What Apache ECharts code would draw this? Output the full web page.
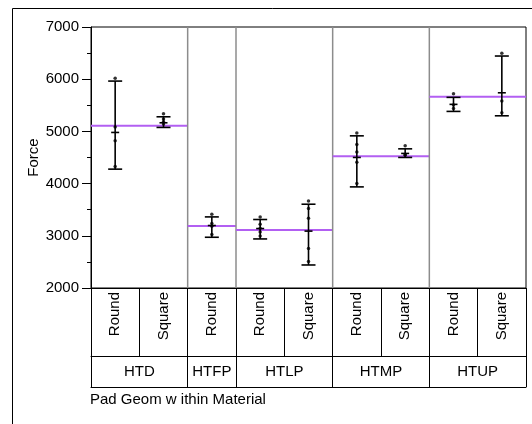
<!DOCTYPE html>
<html>
<head>
<meta charset="utf-8">
<script src="https://cdn.jsdelivr.net/npm/echarts@6/dist/echarts.min.js"></script>
<style>
html, body { margin: 0; padding: 0; background: #fff; }
#chart { width: 532px; height: 424px; }
</style>
</head>
<body>
<div id="chart"></div>
<script>
// 数据
var subLabels = ['Round', 'Square', 'Round', 'Round', 'Square', 'Round', 'Square', 'Round', 'Square'];
var groups = ['HTD', 'HTFP', 'HTLP', 'HTMP', 'HTUP'];
var groupSizes = [2, 1, 2, 2, 2];
var groupMeans = [5107, 3190, 3112, 4526, 5663];

var cellLow = [4277, 5076, 2972, 2940, 2441, 3937, 4501, 5383, 5299];
var cellHigh = [5964, 5280, 3362, 3312, 3605, 4915, 4666, 5652, 6444];
var cellMean = [4980, 5165, 3197, 3139, 3090, 4501, 4578, 5518, 5740];
var cellPoints = [
    [6016, 5082, 4819, 4328],
    [5337, 5236, 5184, 5140],
    [3414, 3235, 3183, 3024],
    [3362, 3222, 3145, 3074, 2997],
    [3669, 3523, 3337, 2756, 2506],
    [4967, 4750, 4603, 4411, 4002],
    [4724, 4559, 4545],
    [5721, 5504, 5441],
    [6496, 5581, 5357]
];

var font = 'Liberation Sans, Arial, sans-serif';

// 组的起止位置
var groupData = [];
var groupBounds = [0];
var pos = 0;
groups.forEach(function (g, i) {
    groupData.push([pos, pos + groupSizes[i], groupMeans[i]]);
    pos += groupSizes[i];
    groupBounds.push(pos);
});
var groupCenters = groupData.map(function (d) { return (d[0] + d[1]) / 2; });

var cellData = cellLow.map(function (lo, i) {
    return [i, lo, cellHigh[i], cellMean[i]];
});
var pointData = [];
cellPoints.forEach(function (arr, i) {
    arr.forEach(function (v) { pointData.push([i, v]); });
});

var myChart = echarts.init(document.getElementById('chart'));

var option = {
    animation: false,
    textStyle: { fontFamily: font },
    title: {
        text: 'Pad Geom w ithin Material',
        left: 90, top: 392, padding: 0,
        textStyle: { fontSize: 15, fontWeight: 'normal', color: '#000', fontFamily: font }
    },
    graphic: [{
        type: 'rect',
        shape: { x: 12.5, y: 8.5, width: 540, height: 440 },
        style: { fill: 'none', stroke: '#000', lineWidth: 1 },
        silent: true
    }],
    grid: {
        left: 91, top: 27, width: 435, height: 261,
        show: true, borderColor: '#000', borderWidth: 1
    },
    xAxis: [{
        type: 'category',
        data: subLabels,
        position: 'bottom',
        axisLine: { lineStyle: { color: '#000', width: 1 } },
        axisTick: { show: true, interval: 0, length: 68, lineStyle: { color: '#000' } },
        axisLabel: { interval: 0, rotate: 90, margin: 4, color: '#000', fontSize: 15, fontFamily: font },
        splitLine: { show: false }
    }, {
        type: 'value',
        min: 0, max: 9,
        position: 'bottom',
        offset: 68,
        axisLine: { show: true, lineStyle: { color: '#000', width: 1 } },
        axisTick: { show: true, length: 31, customValues: groupBounds, lineStyle: { color: '#000' } },
        axisLabel: {
            customValues: groupCenters, margin: 8, color: '#000', fontSize: 15, fontFamily: font,
            formatter: function (v) { return groups[groupCenters.indexOf(v)] || ''; }
        },
        splitLine: { show: false }
    }, {
        type: 'value',
        min: 0, max: 9,
        position: 'bottom',
        offset: 99,
        axisLine: { show: true, lineStyle: { color: '#000', width: 1 } },
        axisTick: { show: false },
        axisLabel: { show: false },
        splitLine: { show: false }
    }],
    yAxis: {
        type: 'value',
        min: 2000, max: 7000, interval: 1000,
        name: 'Force',
        nameLocation: 'middle',
        nameGap: 50,
        nameMoveOverlap: false,
        nameTextStyle: { color: '#000', fontSize: 15, fontFamily: font },
        axisLine: { show: true, lineStyle: { color: '#000', width: 1 } },
        axisTick: { show: true, length: 9, lineStyle: { color: '#000' } },
        minorTick: { show: true, splitNumber: 2, length: 4, lineStyle: { color: '#000' } },
        axisLabel: {
            margin: 12, color: '#000', fontSize: 15, fontFamily: font,
            formatter: function (v) { return String(v); }
        },
        splitLine: { show: false }
    },
    series: [{
        // 分组分隔线与组均值线
        type: 'custom',
        xAxisIndex: 1,
        z: 2,
        data: groupData,
        renderItem: function (params, api) {
            var s = api.value(0), e = api.value(1), m = api.value(2);
            var a = api.coord([s, m]);
            var b = api.coord([e, m]);
            var children = [];
            if (s > 0) {
                var top = api.coord([s, 7000]);
                var bot = api.coord([s, 2000]);
                children.push({
                    type: 'line',
                    shape: { x1: top[0], y1: top[1], x2: bot[0], y2: bot[1] },
                    style: { stroke: '#8c8c8c', lineWidth: 1.5 }
                });
            }
            children.push({
                type: 'line',
                shape: { x1: a[0], y1: a[1], x2: b[0], y2: b[1] },
                style: { stroke: '#b25ff2', lineWidth: 2 }
            });
            return { type: 'group', children: children };
        }
    }, {
        // 极差线、端帽与均值刻度
        type: 'custom',
        z: 3,
        data: cellData,
        renderItem: function (params, api) {
            var i = api.value(0);
            var lo = api.coord([i, api.value(1)]);
            var hi = api.coord([i, api.value(2)]);
            var mn = api.coord([i, api.value(3)]);
            var x = lo[0];
            var st = { stroke: '#000', lineWidth: 1.6 };
            return {
                type: 'group',
                children: [
                    { type: 'line', shape: { x1: x, y1: lo[1], x2: x, y2: hi[1] }, style: st },
                    { type: 'line', shape: { x1: x - 7, y1: lo[1], x2: x + 7, y2: lo[1] }, style: st },
                    { type: 'line', shape: { x1: x - 7, y1: hi[1], x2: x + 7, y2: hi[1] }, style: st },
                    { type: 'line', shape: { x1: x - 4, y1: mn[1], x2: x + 4, y2: mn[1] }, style: st }
                ]
            };
        }
    }, {
        type: 'scatter',
        z: 4,
        symbolSize: 3.5,
        itemStyle: { color: '#000' },
        data: pointData
    }]
};

myChart.setOption(option);
</script>
</body>
</html>
